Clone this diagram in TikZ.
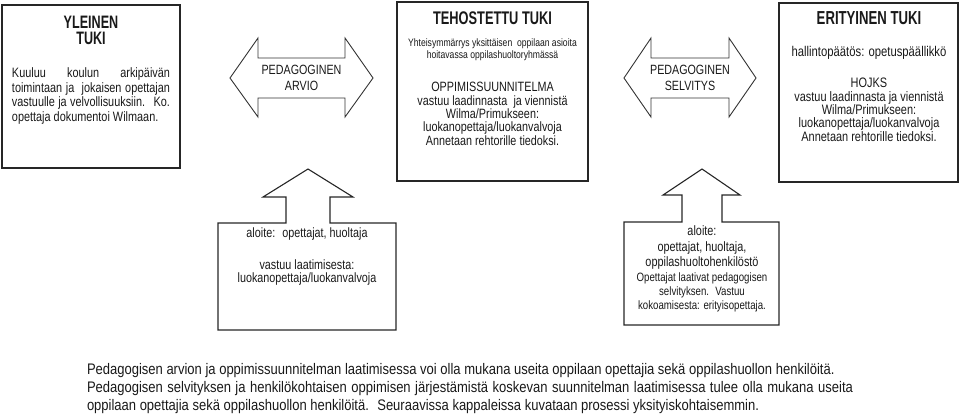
\documentclass[tikz,border=0pt]{standalone}
\usepackage{fontspec}
\setmainfont{Liberation Sans}[FakeStretch=0.85]
\newfontfamily\titfont{Liberation Sans}[FakeStretch=0.7]
\newfontfamily\boxfont{Liberation Sans}[FakeStretch=0.8]
\newcommand\fsz[2]{\fontsize{#1}{#2}\selectfont}
\begin{document}
\begin{tikzpicture}[x=1pt,y=-1pt,
  boxline/.style={draw=black!85,line width=1.3pt},
  arrline/.style={draw=black!80,line width=0.9pt,line join=miter},
  txt/.style={inner sep=0pt,outer sep=0pt,text=black!90,align=center},
  ]
\useasboundingbox (0,0) rectangle (960,413);
% boxes
\draw[boxline] (2,5) rectangle (180,168);
\draw[boxline] (397,2) rectangle (588,181);
\draw[boxline] (779,3) rectangle (958,182);
% double arrows
\draw[arrline] (230,78) -- (258,38) -- (258,58) -- (345,58) -- (345,38) -- (373,78)
  -- (345,117) -- (345,98) -- (258,98) -- (258,117) -- cycle;
\draw[arrline] (624,78) -- (651,38) -- (651,58) -- (729,58) -- (729,38) -- (756,78)
  -- (729,117) -- (729,98) -- (651,98) -- (651,117) -- cycle;
% up-arrow callouts
\draw[boxline,line width=1.1pt] (218,223) -- (286,223) -- (286,197) -- (263,197) -- (308,169) -- (353,197)
  -- (330,197) -- (330,223) -- (396,223) -- (396,330) -- (218,330) -- cycle;
\draw[boxline,line width=1.1pt] (624,222) -- (682,222) -- (682,195) -- (663,195) -- (702,169) -- (740,195)
  -- (722,195) -- (722,222) -- (779,222) -- (779,325) -- (624,325) -- cycle;

% Yleinen
\node[txt,anchor=base,font=\titfont\fsz{18}{16}\bfseries] (yt1) at (91,28.2) {YLEINEN};
\node[txt,anchor=base,font=\titfont\fsz{18}{16}\bfseries] (yt2) at (91,44.2) {TUKI};
\node[txt,anchor=base west,text width=158pt,align=justify,font=\boxfont\fsz{13.6}{14.6}] (yb) at (12,77.5)
  {\hyphenpenalty=10000 Kuuluu koulun arkipäivän\linebreak toimintaan ja \ jokaisen opettajan\linebreak vastuulle ja velvollisuuksiin. \ Ko.\linebreak opettaja dokumentoi Wilmaan.};

% Tehostettu
\node[txt,anchor=base,font=\titfont\fsz{18.3}{15}\bfseries] (tt) at (492.5,24.6) {TEHOSTETTU TUKI};
\node[txt,anchor=base,font=\boxfont\fsz{10.75}{12}] (ts) at (492.5,58.3) {Yhteisymmärrys yksittäisen \ oppilaan asioita\\hoitavassa oppilashuoltoryhmässä};
\node[txt,anchor=base,font=\boxfont\fsz{13.5}{13.3}] (tm) at (492.5,145) {OPPIMISSUUNNITELMA\\vastuu laadinnasta \ ja viennistä\\Wilma/Primukseen:\\luokanopettaja/luokanvalvoja\\Annetaan rehtorille tiedoksi.};

% Erityinen
\node[txt,anchor=base,font=\titfont\fsz{18.8}{15}\bfseries] (et) at (869,24.6) {ERITYINEN TUKI};
\node[txt,anchor=base,font=\boxfont\fsz{14.1}{14}] (eh) at (869,56.5) {hallintopäätös: opetuspäällikkö};
\node[txt,anchor=base,font=\boxfont\fsz{13.7}{13.3}] (em) at (869,141) {HOJKS\\vastuu laadinnasta ja viennistä\\Wilma/Primukseen:\\luokanopettaja/luokanvalvoja\\Annetaan rehtorille tiedoksi.};

% arrow texts
\node[txt,anchor=base,font=\boxfont\fsz{13.4}{15.5}] (pa) at (301.5,90) {PEDAGOGINEN\\ARVIO};
\node[txt,anchor=base,font=\boxfont\fsz{13.4}{15.5}] (ps) at (690,90) {PEDAGOGINEN\\SELVITYS};

% callout 1
\node[txt,anchor=base,font=\boxfont\fsz{13.5}{13}] (c1a) at (307,237.5) {aloite: \ opettajat, huoltaja};
\node[txt,anchor=base,font=\boxfont\fsz{13.5}{13}] (c1b) at (307,282.5) {vastuu laatimisesta:\\luokanopettaja/luokanvalvoja};

% callout 2
\node[txt,anchor=base,font=\boxfont\fsz{13.6}{15.5}] (c2a) at (702,266.5) {aloite:\\opettajat, huoltaja,\\oppilashuoltohenkilöstö};
\node[txt,anchor=base,font=\boxfont\fsz{12.1}{14}] (c2b) at (702,309.3) {Opettajat laativat pedagogisen\\selvityksen. \ Vastuu\\kokoamisesta: erityisopettaja.};

% bottom paragraph
\node[txt,anchor=base west,text width=766pt,align=justify,font=\fsz{15.3}{18}] (bot) at (87,374.5)
  {\hyphenpenalty=10000 Pedagogisen arvion ja oppimissuunnitelman laatimisessa voi olla mukana useita oppilaan opettajia sekä oppilashuollon henkilöitä.\\
  Pedagogisen selvityksen ja henkilökohtaisen oppimisen järjestämistä koskevan suunnitelman laatimisessa tulee olla mukana useita\linebreak oppilaan opettajia sekä oppilashuollon henkilöitä. \ Seuraavissa kappaleissa kuvataan prosessi yksityiskohtaisemmin.};
\end{tikzpicture}
\end{document}
